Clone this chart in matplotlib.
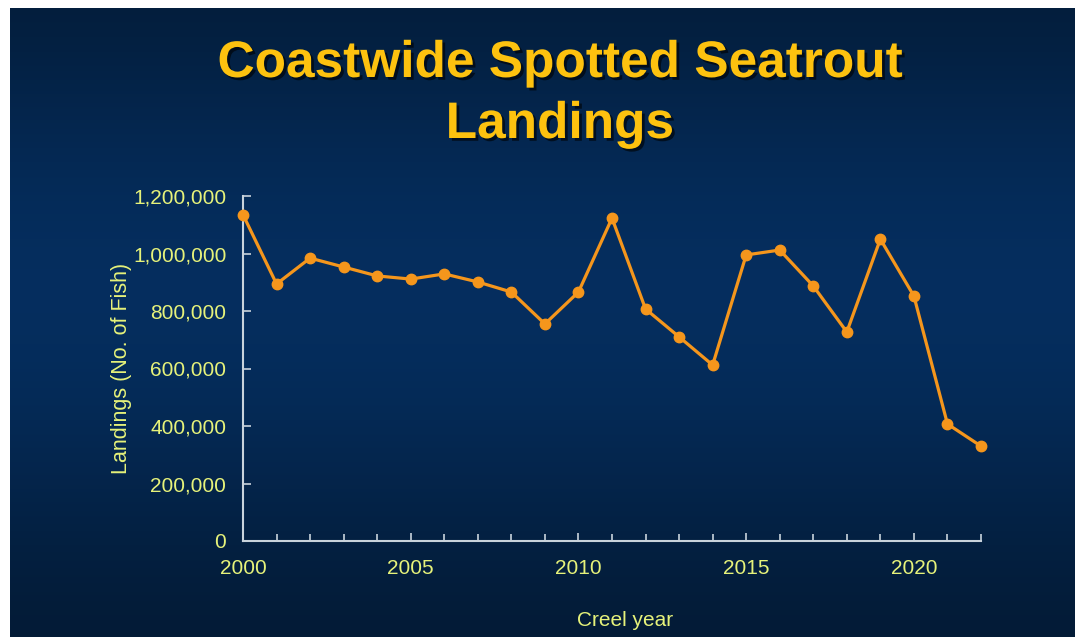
import matplotlib
matplotlib.use('Agg')
import matplotlib.pyplot as plt
import matplotlib.patheffects as pe
import numpy as np
from matplotlib.ticker import FuncFormatter

# Datos
anios = [2000, 2001, 2002, 2003, 2004, 2005, 2006, 2007, 2008, 2009, 2010,
         2011, 2012, 2013, 2014, 2015, 2016, 2017, 2018, 2019, 2020, 2021, 2022]
capturas = [1135000, 894000, 984000, 953000, 922000, 911000, 929000, 901000,
            866000, 755000, 866000, 1123000, 807000, 710000, 612000, 995000,
            1012000, 887000, 727000, 1050000, 852000, 407000, 330000]
y_ticks = [0, 200000, 400000, 600000, 800000, 1000000, 1200000]
x_ticks = [2000, 2005, 2010, 2015, 2020]
titulo = ['Coastwide Spotted Seatrout', 'Landings']

plt.rcParams['font.family'] = ['Liberation Sans', 'DejaVu Sans']

W, H = 1081, 637
fig = plt.figure(figsize=(W / 100, H / 100), dpi=100, facecolor='white')

# Fondo con degradado azul
bg = fig.add_axes([10 / W, 0, (1075 - 10) / W, (H - 8) / H])
t = np.linspace(0, 1, 256)
perfil = np.exp(-((t - 0.45) / 0.42) ** 2)
oscuro = np.array([0.01, 0.09, 0.18])
claro = np.array([0.02, 0.18, 0.37])
cols = oscuro[None, :] + (claro - oscuro)[None, :] * perfil[:, None]
img = np.repeat(cols[:, None, :], 2, axis=1)
bg.imshow(img, aspect='auto', extent=[0, 1, 0, 1], origin='upper')
bg.axis('off')

amarillo = '#e6f27a'
naranja = '#f5961c'

# Título (dos líneas)
sombra = [pe.withSimplePatchShadow(offset=(2, -2), shadow_rgbFace='black', alpha=0.6)]
for linea, base in zip(titulo, [77, 138]):
    fig.text(560 / W, 1 - base / H, linea, ha='center', va='baseline',
             fontsize=37, fontweight='bold', color='#fdc20f', path_effects=sombra)

ax = fig.add_axes([243 / W, (H - 541) / H, (981 - 243) / W, (541 - 196) / H])
ax.set_facecolor('none')
ax.plot(anios, capturas, color=naranja, lw=2.3, marker='o', ms=7.5,
        markerfacecolor=naranja, markeredgecolor=naranja, clip_on=False, zorder=3)

ax.set_xlim(2000, 2022)
ax.set_ylim(0, 1200000)
ax.set_xticks(x_ticks)
ax.set_xticks(anios, minor=True)
ax.set_yticks(y_ticks)
ax.yaxis.set_major_formatter(FuncFormatter(lambda v, p: f'{int(v):,}'))

for lado in ['top', 'right']:
    ax.spines[lado].set_visible(False)
for lado in ['left', 'bottom']:
    ax.spines[lado].set_color('#c9d3dc')
    ax.spines[lado].set_linewidth(1.5)

ax.tick_params(axis='both', which='both', direction='in', color='#c9d3dc', width=1.2)
ax.tick_params(axis='both', which='major', length=6, labelsize=15, labelcolor=amarillo)
ax.tick_params(axis='x', which='minor', length=5)
ax.tick_params(axis='x', which='major', pad=13)
ax.tick_params(axis='y', which='major', pad=12)

ax.set_ylabel('Landings (No. of Fish)', fontsize=15.5, color=amarillo, labelpad=1)
fig.text(625 / W, 1 - 620 / H, 'Creel year', ha='center', va='center',
         fontsize=15, color=amarillo)

fig.savefig('out.png', dpi=100, facecolor='white')
